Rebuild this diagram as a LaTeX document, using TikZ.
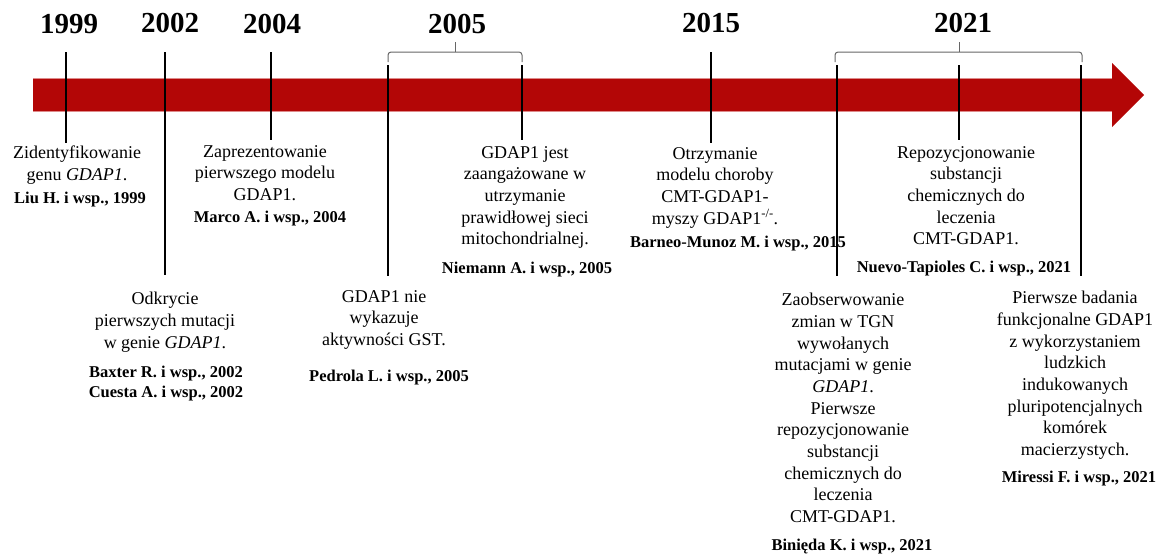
\documentclass[tikz,border=0pt]{standalone}
\usepackage{fontspec}
\setmainfont{Liberation Serif}
\usetikzlibrary{positioning,calc}
\definecolor{czerwien}{HTML}{B30606}
\definecolor{brzeg}{HTML}{DE8A8A}

\begin{document}
\begin{tikzpicture}[x=1pt,y=-1pt,
  rok/.style={font=\fontsize{29}{30}\selectfont\bfseries, anchor=base, inner sep=0pt},
  opis/.style={font=\fontsize{18}{21.7}\selectfont, align=center, anchor=north, inner sep=0pt},
  zrodlo/.style={font=\fontsize{16.5}{20}\selectfont\bfseries, align=center, anchor=base, inner sep=0pt},
  kreska/.style={line width=1.5pt, black},
  nawias/.style={line width=1pt, black!60, rounded corners=3pt}]
\useasboundingbox (0,0) rectangle (1165,555);

% os czasu
\fill[czerwien] (33,78) -- (1112,78) -- (1112,63) -- (1144,95) -- (1112,127) -- (1112,111) -- (33,111) -- cycle;
\draw[brzeg, line width=0.6pt] (33,78) -- (1112,78);
\draw[brzeg, line width=0.6pt] (33,111) -- (1112,111);

% lata
\node[rok] (y1999) at (69,33) {1999};
\node[rok] (y2002) at (170,32) {2002};
\node[rok] (y2004) at (272,33) {2004};
\node[rok] (y2005) at (457,33) {2005};
\node[rok] (y2015) at (711,32) {2015};
\node[rok] (y2021) at (963,32) {2021};

% nawiasy
\draw[nawias] (388,62) -- (388,52) -- (522,52) -- (522,62);
\draw[nawias] (455,52) -- (455,42);
\draw[nawias] (835,62) -- (835,52) -- (1082,52) -- (1082,62);
\draw[nawias] (959,52) -- (959,42);

% opisy nad osia
\node[opis] (d1999) at (77,146) {Zidentyfikowanie\\genu \textit{GDAP1}.};
\node[zrodlo] (r1999) at (80,203) {Liu H. i wsp., 1999};

\node[opis] (d2004) at (265,145) {Zaprezentowanie\\pierwszego modelu\\GDAP1.};
\node[zrodlo] (r2004) at (270,222) {Marco A. i wsp., 2004};

\node[opis] (d2005b) at (525,146) {GDAP1 jest\\zaangażowane w\\utrzymanie\\prawidłowej sieci\\mitochondrialnej.};
\node[zrodlo] (r2005b) at (527,273) {Niemann A. i wsp., 2005};

\node[opis] (d2015) at (715,147) {Otrzymanie\\modelu choroby\\CMT-GDAP1-\\myszy GDAP1\textsuperscript{-/-}.};
\node[zrodlo] (r2015) at (738,247) {Barneo-Munoz M. i wsp., 2015};

\node[opis] (d2021b) at (966,146) {Repozycjonowanie\\substancji\\chemicznych do\\leczenia\\CMT-GDAP1.};
\node[zrodlo] (r2021b) at (964,272) {Nuevo-Tapioles C. i wsp., 2021};

% opisy pod osia
\node[opis] (d2002) at (165,292) {Odkrycie\\pierwszych mutacji\\w genie \textit{GDAP1}.};
\node[zrodlo, anchor=north] (r2002) at (166,366) {Baxter R. i wsp., 2002\\Cuesta A. i wsp., 2002};

\node[opis] (d2005a) at (384,290) {GDAP1 nie\\wykazuje\\aktywności GST.};
\node[zrodlo] (r2005a) at (389,381) {Pedrola L. i wsp., 2005};

\node[opis] (d2021a) at (843,293) {Zaobserwowanie\\zmian w TGN\\wywołanych\\mutacjami w genie\\\textit{GDAP1}.\\Pierwsze\\repozycjonowanie\\substancji\\chemicznych do\\leczenia\\CMT-GDAP1.};
\node[zrodlo] (r2021a) at (852,550) {Binięda K. i wsp., 2021};

\node[opis] (d2021c) at (1075,291) {Pierwsze badania\\funkcjonalne GDAP1\\z wykorzystaniem\\ludzkich\\indukowanych\\pluripotencjalnych\\komórek\\macierzystych.};
\node[zrodlo] (r2021c) at (1079,482) {Miressi F. i wsp., 2021};

% kreski
\coordinate (g1999) at (66,52);
\coordinate (g2002) at (165,52);
\coordinate (g2004) at (271,52);
\coordinate (g2005a) at (388,65);
\coordinate (g2005b) at (522,65);
\coordinate (g2015) at (711,52);
\coordinate (g2021a) at (837,65);
\coordinate (g2021b) at (959,65);
\coordinate (g2021c) at (1081,65);

\draw[kreska, shorten >=3pt] (g1999) -- (g1999 |- d1999.north);
\draw[kreska, shorten >=17pt] (g2002) -- (g2002 |- d2002.north);
\draw[kreska, shorten >=5pt] (g2004) -- (g2004 |- d2004.north);
\draw[kreska, shorten >=14pt] (g2005a) -- (g2005a |- d2005a.north);
\draw[kreska, shorten >=6pt] (g2005b) -- (g2005b |- d2005b.north);
\draw[kreska, shorten >=4pt] (g2015) -- (g2015 |- d2015.north);
\draw[kreska, shorten >=17pt] (g2021a) -- (g2021a |- d2021a.north);
\draw[kreska, shorten >=6pt] (g2021b) -- (g2021b |- d2021b.north);
\draw[kreska, shorten >=15pt] (g2021c) -- (g2021c |- d2021c.north);
\end{tikzpicture}
\end{document}
